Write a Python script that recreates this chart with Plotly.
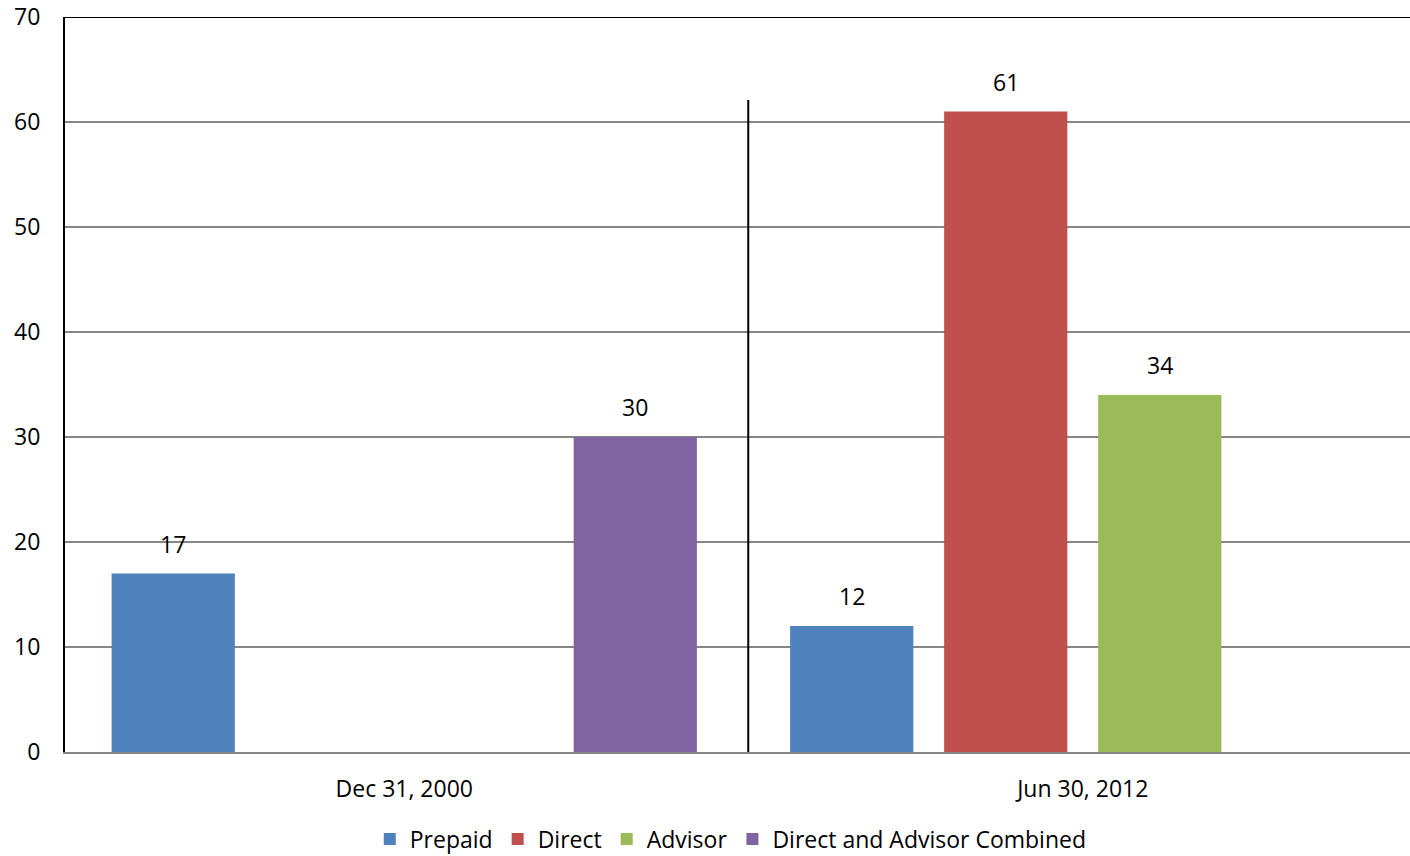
import plotly.graph_objects as go

categories = ["Dec 31, 2000", "Jun 30, 2012"]
series_names = ["Prepaid", "Direct", "Advisor", "Direct and Advisor Combined"]
prepaid = [17, 12]
direct = [None, 61]
advisor = [None, 34]
combined = [30, None]
colors = ["#4F81BD", "#C0504D", "#9BBB59", "#8064A2"]
y_ticks = [0, 10, 20, 30, 40, 50, 60, 70]

FONT = "Open Sans"
FS = 23
BARGAP = 0.092
GROUPGAP = 0.2

fig = go.Figure()
all_series = [prepaid, direct, advisor, combined]
for name, vals, col in zip(series_names, all_series, colors):
    fig.add_trace(go.Bar(
        name=name, x=[0, 1], y=vals, marker=dict(color=col, line=dict(width=0)),
    ))

# value labels placed above each bar, offsets derived from the grouping parameters
n = len(all_series)
slot = (1 - BARGAP) / n
for i, vals in enumerate(all_series):
    off = (i - (n - 1) / 2) * slot
    for j, v in enumerate(vals):
        if v is None:
            continue
        fig.add_annotation(x=j + off, y=v, text=str(v), showarrow=False,
                           yanchor="bottom", yshift=12,
                           font=dict(family=FONT, size=FS, color="#000000"))

fig.update_layout(
    width=1410, height=856,
    margin=dict(l=65, r=0, t=17, b=104, autoexpand=False),
    paper_bgcolor="white", plot_bgcolor="white",
    barmode="group", bargap=BARGAP, bargroupgap=GROUPGAP,
    font=dict(family=FONT, size=FS, color="#000000"),
    showlegend=True,
    legend=dict(orientation="h", x=0.495, xanchor="center", yref="paper",
                y=-0.1185, yanchor="middle", bgcolor="rgba(0,0,0,0)",
                font=dict(family=FONT, size=FS), itemwidth=30, traceorder="normal"),
    xaxis=dict(range=[-0.5, 1.4823], tickvals=[0, 1], ticktext=categories,
               showgrid=False, showline=True, linecolor="#868686", linewidth=2,
               ticks="", ticklabelstandoff=15, zeroline=False, automargin=False),
    yaxis=dict(range=[0, 70], tickvals=y_ticks, showgrid=True, gridcolor="#868686",
               gridwidth=1.5, showline=True, linecolor="#000000", linewidth=2,
               ticks="", ticklabelstandoff=18, zeroline=False, automargin=False),
)
# top border and divider
fig.add_shape(type="line", xref="paper", yref="y", x0=0, x1=1, y0=70, y1=70,
              line=dict(color="#000000", width=2))
fig.add_shape(type="line", xref="x", yref="y", x0=0.507, x1=0.507, y0=62.1, y1=-0.5,
              line=dict(color="#000000", width=2))

fig.write_html("out.html")
